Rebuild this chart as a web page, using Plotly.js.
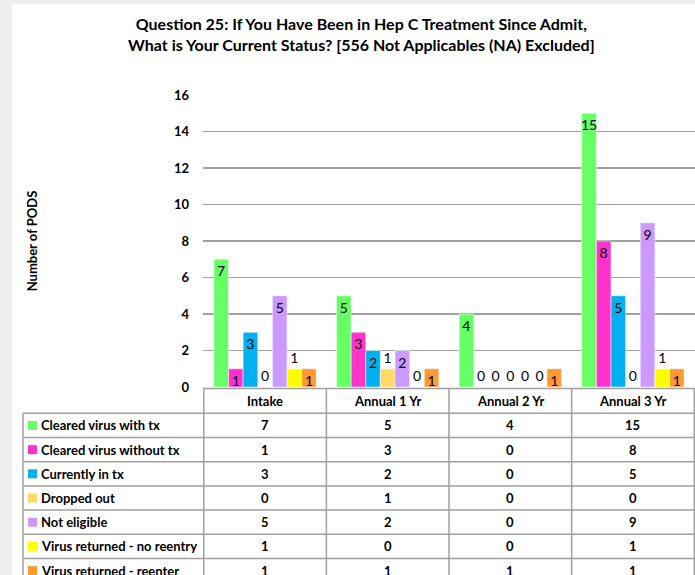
<!DOCTYPE html>
<html>
<head>
<meta charset="utf-8">
<script src="https://cdn.plot.ly/plotly-3.0.1.min.js"></script>
<style>html,body{margin:0;padding:0;background:#fff;}#chart{width:695px;height:575px;}</style>
</head>
<body>
<div id="chart"></div>
<script>
// ---- Data ----
const categories = ['Intake', 'Annual 1 Yr', 'Annual 2 Yr', 'Annual 3 Yr'];
const seriesNames = ['Cleared virus with tx', 'Cleared virus without tx', 'Currently in tx', 'Dropped out', 'Not eligible', 'Virus returned - no reentry', 'Virus returned - reenter'];
const clearedWithTx = [7, 5, 4, 15];
const clearedWithoutTx = [1, 3, 0, 8];
const currentlyInTx = [3, 2, 0, 5];
const droppedOut = [0, 1, 0, 0];
const notEligible = [5, 2, 0, 9];
const returnedNoReentry = [1, 0, 0, 1];
const returnedReenter = [1, 1, 1, 1];
const yTickValues = [0, 2, 4, 6, 8, 10, 12, 14, 16];
const titleText = 'Question 25: If You Have Been in Hep C Treatment Since Admit,<br>What is Your Current Status? [556 Not Applicables (NA) Excluded]';
const yTitle = 'Number of PODS';

// ---- Styles ----
const colors = ['#66FF66', '#FF33CC', '#00B0F0', '#FFD966', '#CC99FF', '#FFFF00', '#FF9933'];
const seriesValues = [clearedWithTx, clearedWithoutTx, currentlyInTx, droppedOut, notEligible, returnedNoReentry, returnedReenter];
const labelMode = ['inside', 'auto0', 'auto0', 'outside', 'auto0', 'outside', 'inside'];
const FONT = 'Lato, "Open Sans", sans-serif';

// pixel layout
const W = 695, H = 575, L = 203, R = 695, T = 95, B = 387;
const px = x => (x - L) / (R - L);
const py = y => (B - y) / (B - T);
const headerTop = 388.5, headerBottom = 413.3, rowH = 24.2, labelLeft = 23;

const traces = seriesValues.map((vals, i) => ({
  type: 'bar',
  name: seriesNames[i],
  x: categories,
  y: vals,
  marker: {color: colors[i], line: {color: 'rgba(255,255,255,0.5)', width: 1}},
  text: vals.map(String),
  textposition: labelMode[i] === 'auto0' ? vals.map(v => v === 0 ? 'outside' : 'inside') : labelMode[i],
  insidetextanchor: 'end',
  constraintext: 'none',
  textangle: 0,
  textfont: {family: FONT, size: 14, color: '#000'},
  cliponaxis: false,
  hoverinfo: 'skip'
}));

const shapes = [];
const annotations = [];
const lineStyle = {color: '#a0a0a0', width: 1.5};
// background strips
shapes.push({type: 'rect', xref: 'paper', yref: 'paper', x0: px(0), x1: px(12), y0: py(0), y1: py(H), fillcolor: '#eeeeee', line: {width: 0}, layer: 'below'});
shapes.push({type: 'rect', xref: 'paper', yref: 'paper', x0: px(0), x1: px(W), y0: py(0), y1: py(4), fillcolor: '#eeeeee', line: {width: 0}, layer: 'below'});

// header row top
shapes.push({type: 'line', xref: 'paper', yref: 'paper', x0: px(L), x1: px(R), y0: py(headerTop), y1: py(headerTop), line: lineStyle});
// row lines
const nRows = seriesNames.length;
for (let r = 0; r <= nRows; r++) {
  const y = headerBottom + r * rowH;
  shapes.push({type: 'line', xref: 'paper', yref: 'paper', x0: px(labelLeft), x1: px(R), y0: py(y), y1: py(y), line: lineStyle});
}
const tableBottom = headerBottom + nRows * rowH;
// vertical lines: label column left
shapes.push({type: 'line', xref: 'paper', yref: 'paper', x0: px(labelLeft), x1: px(labelLeft), y0: py(headerBottom), y1: py(tableBottom), line: lineStyle});
// category boundaries
for (let c = 0; c <= categories.length; c++) {
  shapes.push({type: 'line', xref: 'x', yref: 'paper', x0: c - 0.5, x1: c - 0.5, y0: py(headerTop), y1: py(tableBottom), line: lineStyle});
}
// header labels
categories.forEach((cat, c) => {
  annotations.push({xref: 'x', yref: 'paper', x: c, y: py((headerTop + headerBottom) / 2), text: '<b>' + cat + '</b>', showarrow: false, xanchor: 'center', yanchor: 'middle', font: {family: FONT, size: 13, color: '#000'}});
});
// rows
seriesNames.forEach((name, r) => {
  const yc = headerBottom + (r + 0.5) * rowH;
  shapes.push({type: 'rect', xref: 'paper', yref: 'paper', x0: px(28), x1: px(37), y0: py(yc - 4.5), y1: py(yc + 4.5), fillcolor: colors[r], line: {width: 0}});
  annotations.push({xref: 'paper', yref: 'paper', x: px(38.5), y: py(yc), text: '<b>' + name + '</b>', showarrow: false, xanchor: 'left', yanchor: 'middle', font: {family: FONT, size: 13, color: '#000'}});
  seriesValues[r].forEach((v, c) => {
    annotations.push({xref: 'x', yref: 'paper', x: c, y: py(yc), text: '<b>' + v + '</b>', showarrow: false, xanchor: 'center', yanchor: 'middle', font: {family: FONT, size: 13, color: '#000'}});
  });
});

const layout = {
  width: W, height: H,
  margin: {l: L, r: W - R, t: T, b: H - B, pad: 0},
  paper_bgcolor: '#ffffff',
  plot_bgcolor: 'rgba(0,0,0,0)',
  showlegend: false,
  barmode: 'group',
  bargap: 0.165,
  bargroupgap: 0,
  title: {text: '<b>' + titleText + '</b>', font: {family: FONT, size: 16, color: '#000'}, xref: 'container', x: 0.52, xanchor: 'center', yref: 'container', y: 1 - 30 / H, yanchor: 'top'},
  xaxis: {type: 'category', showticklabels: false, showgrid: false, zeroline: false, showline: false, ticks: '', fixedrange: true},
  yaxis: {
    range: [0, 16], tickvals: yTickValues, ticktext: yTickValues.map(v => '<b>' + v + '</b>'),
    showgrid: true, gridcolor: '#a0a0a0', gridwidth: 1.5, zeroline: false, showline: false, ticks: '',
    ticklabelstandoff: 13,
    tickfont: {family: FONT, size: 13, color: '#000'},
    title: {text: '<b>' + yTitle + '</b>', font: {family: FONT, size: 13, color: '#000'}, standoff: 133},
    fixedrange: true
  },
  shapes: shapes,
  annotations: annotations
};

Plotly.newPlot('chart', traces, layout, {displayModeBar: false, staticPlot: true});
</script>
</body>
</html>
